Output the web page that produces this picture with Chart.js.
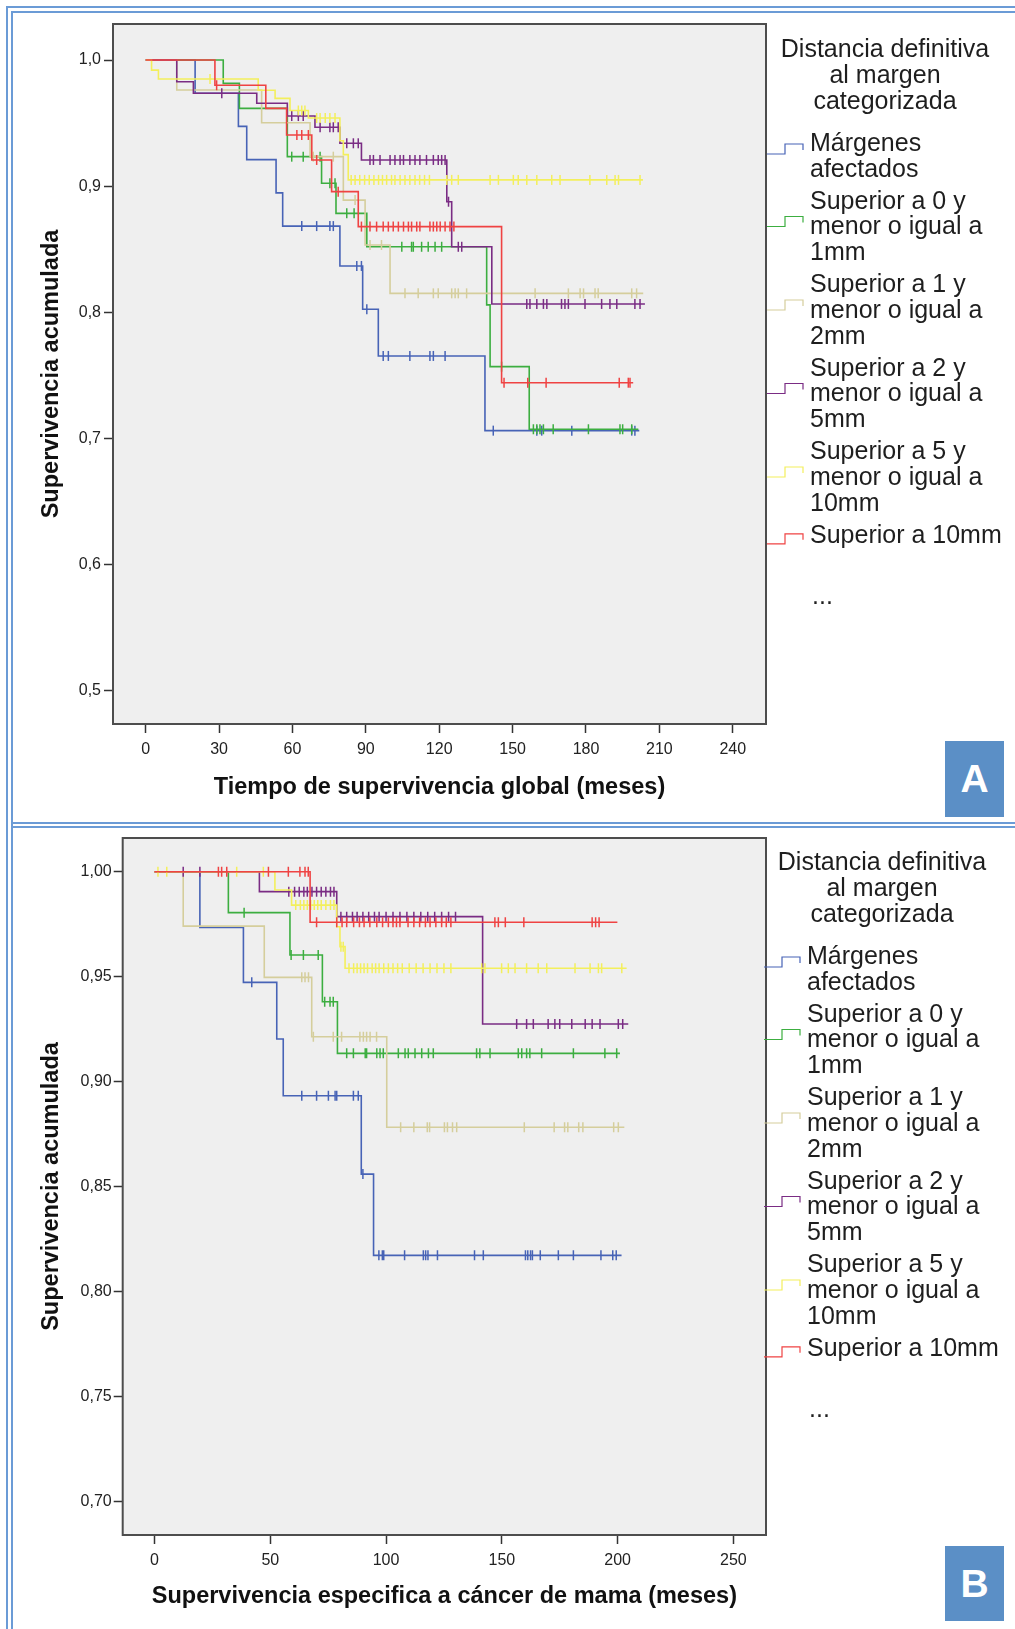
<!DOCTYPE html>
<html lang="es">
<head>
<meta charset="utf-8">
<title>Supervivencia según distancia definitiva al margen</title>
<script src="https://cdn.jsdelivr.net/npm/chart.js@4.4.1/dist/chart.umd.min.js"></script>
<style>
  html, body { margin: 0; padding: 0; background: #fff; }
  body { position: relative; width: 1015px; height: 1629px; overflow: hidden; }
  .rule { position: absolute; background: #6b9bd6; }
  canvas { position: absolute; left: 0; }
  .tag { position: absolute; left: 945px; width: 59px; background: #5b8fc6; color: #fff;
         font: bold 39px "Liberation Sans", Arial, sans-serif; display: flex; align-items: center; justify-content: center; }
</style>
</head>
<body>
<div class="rule" style="left:6px;top:6px;width:1009px;height:2px"></div>
<div class="rule" style="left:11px;top:11px;width:1004px;height:1.5px"></div>
<div class="rule" style="left:6px;top:6px;width:2px;height:1623px"></div>
<div class="rule" style="left:11px;top:11px;width:1.5px;height:1618px"></div>
<div class="rule" style="left:11px;top:822px;width:1004px;height:1.5px"></div>
<div class="rule" style="left:11px;top:826px;width:1004px;height:1.5px"></div>
<canvas id="chartA" width="1015" height="815" style="top:0"></canvas>
<canvas id="chartB" width="1015" height="814" style="top:815px"></canvas>
<div class="tag" style="top:741px;height:76px">A</div>
<div class="tag" style="top:1546px;height:75px">B</div>
<script>
// ---------- Panel A: supervivencia global ----------
const xTicksA = [0, 30, 60, 90, 120, 150, 180, 210, 240];
const yTicksA = [0.5, 0.6, 0.7, 0.8, 0.9, 1.0];
const yTickLabelsA = ['0,5', '0,6', '0,7', '0,8', '0,9', '1,0'];

// step times (months), survival after each step, censored times
const blueA_t = [0, 20.2, 37.9, 41.3, 53.3, 56.0, 79.4, 88.7, 95.1, 138.7, 201.8];
const blueA_s = [1, 0.9737, 0.9474, 0.9211, 0.8947, 0.8684, 0.8368, 0.8025, 0.7655, 0.7063, 0.7063];
const blueA_c = [63.8, 69.9, 75.3, 76.7, 86.3, 88.2, 90.4, 97.1, 99.2, 108.0, 116.2, 117.6, 122.4, 142.1, 159.9, 161.9, 174.2, 198.7, 200.0];

const greenA_t = [0, 31.7, 38.3, 57.9, 71.9, 77.8, 90.4, 139.4, 140.8, 156.8, 201.4];
const greenA_s = [1, 0.9815, 0.9617, 0.9234, 0.9023, 0.8785, 0.852, 0.806, 0.757, 0.7074, 0.7074];
const greenA_c = [59.7, 64.4, 71.3, 75.3, 77.4, 82.2, 85.2, 104.7, 108.7, 109.4, 112.8, 115.5, 118.3, 121.0, 145.5, 158.5, 159.9, 161.2, 162.6, 166.6, 181.0, 193.9, 195.0, 198.7];

const oliveA_t = [0, 12.7, 47.4, 67.2, 80.8, 89.7, 99.9, 203.4];
const oliveA_s = [1, 0.9762, 0.9503, 0.9234, 0.889, 0.8534, 0.8151, 0.8151];
const oliveA_c = [68.5, 76.7, 85.6, 91.7, 96.4, 106.0, 111.4, 117.6, 119.6, 125.1, 126.5, 127.8, 131.2, 159.2, 172.8, 177.6, 179.0, 183.7, 185.0, 198.7, 200.7];

const purpleA_t = [0, 12.7, 19.5, 45.4, 57.9, 69.2, 79.4, 88.2, 123.1, 125.1, 141.5, 204.1];
const purpleA_s = [1, 0.9828, 0.9736, 0.9657, 0.9556, 0.9467, 0.934, 0.9208, 0.8877, 0.852, 0.8067, 0.8067];
const purpleA_c = [31.1, 59.7, 62.4, 64.4, 71.3, 75.3, 76.7, 78.7, 82.2, 84.9, 86.9, 91.7, 93.1, 95.8, 99.9, 101.9, 104.0, 105.4, 108.0, 110.1, 112.1, 114.8, 117.6, 119.6, 121.0, 122.4, 123.8, 127.8, 129.2, 155.8, 157.1, 159.9, 162.6, 164.0, 170.0, 171.4, 172.8, 179.6, 186.4, 189.8, 192.6, 200.0, 202.1];

const yellowA_t = [0, 2.4, 5.2, 46.0, 52.9, 59.0, 66.5, 79.4, 80.8, 82.8, 203.3];
const yellowA_s = [1, 0.992, 0.985, 0.976, 0.9696, 0.960, 0.954, 0.936, 0.925, 0.905, 0.905];
const yellowA_c = [26.3, 62.4, 63.8, 65.1, 69.9, 71.3, 73.4, 75.3, 77.4, 84.0, 85.6, 87.5, 89.5, 91.4, 93.3, 95.2, 96.8, 98.5, 100.5, 101.9, 104.0, 106.0, 108.0, 110.1, 112.0, 114.0, 116.0, 123.1, 125.1, 127.8, 140.8, 144.2, 150.3, 152.3, 155.8, 159.9, 166.0, 169.4, 181.6, 188.5, 191.9, 193.3, 202.1];

const redA_t = [0, 28.3, 49.1, 57.6, 67.9, 76.0, 86.9, 145.5, 199.3];
const redA_s = [1, 0.980, 0.9617, 0.9406, 0.9208, 0.8957, 0.868, 0.7443, 0.7443];
const redA_c = [29.0, 61.8, 63.8, 66.5, 69.9, 78.7, 88.2, 91.7, 94.4, 97.1, 99.2, 101.2, 103.3, 105.4, 107.4, 108.7, 110.8, 112.1, 116.2, 117.6, 119.0, 120.4, 122.4, 124.4, 126.0, 146.5, 156.2, 163.7, 193.6, 197.3, 198.0];

// ---------- Panel B: supervivencia específica a cáncer de mama ----------
const xTicksB = [0, 50, 100, 150, 200, 250];
const yTicksB = [0.70, 0.75, 0.80, 0.85, 0.90, 0.95, 1.00];
const yTickLabelsB = ['0,70', '0,75', '0,80', '0,85', '0,90', '0,95', '1,00'];

const blueB_t = [0, 19.6, 38.4, 52.8, 55.6, 89.3, 94.6, 201.7];
const blueB_s = [1, 0.9735, 0.9473, 0.9203, 0.8933, 0.856, 0.8173, 0.8173];
const blueB_c = [42.0, 63.6, 70.0, 75.1, 78.0, 78.7, 85.9, 88.0, 90.0, 96.9, 98.4, 99.0, 108.0, 116.1, 117.1, 118.1, 122.2, 138.2, 142.0, 160.2, 161.2, 162.4, 163.2, 166.6, 174.4, 180.9, 192.8, 197.9, 199.4];

const greenB_t = [0, 31.9, 58.5, 72.5, 79.0, 201.0];
const greenB_s = [1, 0.9805, 0.9603, 0.9381, 0.9135, 0.9135];
const greenB_c = [38.7, 59.0, 64.3, 70.7, 73.5, 75.8, 77.2, 83.0, 85.9, 91.0, 91.6, 96.0, 97.4, 98.8, 105.3, 108.2, 109.6, 112.5, 115.4, 118.3, 120.4, 139.1, 140.5, 144.9, 157.1, 158.6, 160.7, 162.1, 167.2, 180.9, 194.5, 199.6];

const oliveB_t = [0, 12.4, 47.4, 67.9, 100.3, 202.9];
const oliveB_s = [1, 0.9741, 0.9497, 0.9214, 0.8783, 0.8783];
const oliveB_c = [63.6, 65.0, 66.5, 68.6, 77.2, 80.8, 88.7, 90.2, 91.6, 93.1, 95.9, 106.3, 112.0, 117.8, 118.8, 125.2, 126.5, 128.7, 130.5, 159.7, 172.6, 177.1, 178.5, 183.2, 185.0, 198.3, 200.3];

const purpleB_t = [0, 45.3, 78.7, 141.7, 204.6];
const purpleB_s = [1, 0.9905, 0.9786, 0.9275, 0.9275];
const purpleB_c = [12.4, 19.6, 58.0, 60.5, 62.5, 64.5, 66.0, 68.0, 70.0, 72.0, 74.0, 76.0, 77.5, 80.5, 83.0, 85.5, 87.5, 90.0, 92.5, 95.0, 97.0, 100.0, 103.0, 106.0, 109.0, 112.0, 115.0, 118.0, 121.0, 124.0, 127.0, 130.0, 156.4, 160.7, 163.6, 170.0, 172.9, 175.0, 180.2, 186.0, 189.0, 192.4, 200.3, 202.2];

const yellowB_t = [0, 52.0, 59.2, 78.7, 80.1, 82.3, 203.9];
const yellowB_s = [1, 0.9913, 0.9841, 0.9738, 0.9643, 0.954, 0.954];
const yellowB_c = [1.5, 5.3, 35.5, 47.0, 61.0, 63.0, 64.5, 66.0, 67.5, 69.0, 70.5, 72.0, 74.0, 76.0, 77.5, 80.5, 81.5, 84.0, 86.0, 87.5, 89.0, 90.5, 92.0, 94.0, 95.5, 97.0, 99.0, 101.0, 103.0, 105.0, 107.0, 110.0, 113.0, 116.0, 119.0, 122.0, 125.0, 128.0, 141.3, 142.7, 149.9, 152.8, 155.7, 160.7, 165.7, 169.4, 181.6, 188.1, 191.7, 193.1, 201.8];

const redB_t = [0, 67.2, 199.9];
const redB_s = [1, 0.9759, 0.9759];
const redB_c = [27.6, 29.0, 31.2, 49.2, 57.8, 62.8, 65.0, 66.4, 70.0, 78.7, 81.0, 83.0, 86.0, 88.5, 90.5, 93.0, 96.0, 98.5, 101.0, 103.0, 104.5, 106.0, 109.5, 112.0, 114.5, 117.0, 119.0, 121.5, 124.0, 126.0, 128.0, 147.0, 148.5, 151.5, 159.5, 189.0, 190.5, 192.0];

// ---------- shared legend text and series colours ----------
const legendTitle = ['Distancia definitiva', 'al margen', 'categorizada'];
const legendLabels = [
  ['Márgenes', 'afectados'],
  ['Superior a 0 y', 'menor o igual a', '1mm'],
  ['Superior a 1 y', 'menor o igual a', '2mm'],
  ['Superior a 2 y', 'menor o igual a', '5mm'],
  ['Superior a 5 y', 'menor o igual a', '10mm'],
  ['Superior a 10mm']
];
const seriesColors = ['#4763b6', '#3cae40', '#d5ce9c', '#7a2c84', '#f3ef5c', '#ef4343'];

const FONT = '"Liberation Sans", Arial, Helvetica, sans-serif';

// survival value of a step curve at time x
function survivalAt(times, surv, x) {
  let v = surv[0];
  for (let i = 0; i < times.length; i++) if (times[i] <= x) v = surv[i];
  return v;
}

function drawLegend(ctx, dx, dy) {
  ctx.save();
  ctx.font = '25px ' + FONT;
  ctx.fillStyle = '#1e1e1e';
  ctx.textBaseline = 'middle';
  ctx.textAlign = 'center';
  legendTitle.forEach((line, i) => ctx.fillText(line, 885 + dx, 50 + i * 26 + dy));
  ctx.textAlign = 'left';
  let y = 144;
  legendLabels.forEach((lines, k) => {
    lines.forEach((line, i) => ctx.fillText(line, 810 + dx, y + i * 25.7 + dy));
    const n = lines.length;
    const sy = (n === 1 ? y + 3 : n === 2 ? y + 5 : y + 25.7 - 6) + dy;
    const x0 = 767 + dx;
    ctx.strokeStyle = seriesColors[k];
    ctx.lineWidth = 1.2;
    ctx.beginPath();
    ctx.moveTo(x0, sy + 5);
    ctx.lineTo(x0 + 18, sy + 5);
    ctx.lineTo(x0 + 18, sy - 5);
    ctx.lineTo(x0 + 36, sy - 5);
    ctx.lineTo(x0 + 36, sy + 1);
    ctx.stroke();
    y += n * 25.7 + 6.4;
  });
  ctx.fillText('...', 812 + dx, 597 + dy);
  ctx.restore();
}

const panelDecor = {
  id: 'panelDecor',
  beforeDraw(chart) {
    const { ctx, chartArea: a } = chart;
    ctx.save();
    ctx.fillStyle = '#efefef';
    ctx.fillRect(a.left, a.top, a.right - a.left, a.bottom - a.top);
    ctx.restore();
  },
  afterDraw(chart, args, opts) {
    const { ctx, chartArea: a } = chart;
    ctx.save();
    ctx.strokeStyle = '#4d4d4d';
    ctx.lineWidth = 2;
    ctx.strokeRect(a.left, a.top, a.right - a.left, a.bottom - a.top);
    ctx.restore();
    drawLegend(ctx, opts.dx, opts.dy);
  }
};

function buildChart(canvasId, p) {
  const datasets = [];
  p.series.forEach((ser, k) => {
    const color = seriesColors[k];
    const order = p.series.length - k;
    datasets.push({
      label: legendLabels[k].join(' '),
      data: ser.t.map((t, i) => ({ x: t, y: ser.s[i] })),
      stepped: true, borderColor: color, borderWidth: 1.6, pointRadius: 0, fill: false, order
    });
    datasets.push({
      label: legendLabels[k].join(' ') + ' (censurado)',
      data: ser.c.map(t => ({ x: t, y: survivalAt(ser.t, ser.s, t) })),
      showLine: false, pointStyle: 'line', rotation: 90, pointRadius: 5, pointHoverRadius: 5,
      pointBorderColor: color, pointBackgroundColor: color, pointBorderWidth: 1.5, order
    });
  });

  return new Chart(document.getElementById(canvasId), {
    type: 'line',
    data: { datasets },
    plugins: [panelDecor],
    options: {
      responsive: false, animation: false, devicePixelRatio: 1, events: [],
      layout: { padding: { left: 25, top: p.top, right: p.right, bottom: p.bottom } },
      plugins: { legend: { display: false }, tooltip: { enabled: false }, panelDecor: { dx: p.legendDx, dy: p.legendDy } },
      scales: {
        x: {
          type: 'linear', min: p.xMin, max: p.xMax,
          afterBuildTicks: s => { s.ticks = p.xTicks.map(v => ({ value: v })); },
          afterFit: s => { s.height = 82; },
          ticks: { autoSkip: false, maxRotation: 0, padding: p.xTickPad, color: '#222', font: { family: FONT, size: 16 }, callback: v => String(v) },
          grid: { drawOnChartArea: false, drawTicks: true, tickLength: 9, tickWidth: 1.5, tickColor: '#333' },
          border: { display: false },
          title: { display: true, text: p.xTitle, color: '#111', font: { family: FONT, size: 23.5, weight: 'bold' }, padding: { top: 0, bottom: p.xTitlePad } }
        },
        y: {
          type: 'linear', min: p.yMin, max: p.yMax,
          afterBuildTicks: s => { s.ticks = p.yTicks.map(v => ({ value: v })); },
          afterFit: s => { s.width = p.yWidth; },
          ticks: { autoSkip: false, padding: p.yTickPad, color: '#222', font: { family: FONT, size: 16 }, callback: (v, i) => p.yTickLabels[i] },
          grid: { drawOnChartArea: false, drawTicks: true, tickLength: 9, tickWidth: 1.5, tickColor: '#333' },
          border: { display: false },
          title: { display: true, text: 'Supervivencia acumulada', color: '#111', font: { family: FONT, size: 23.5, weight: 'bold' }, padding: { top: 12.9, bottom: 0 } }
        }
      }
    }
  });
}

buildChart('chartA', {
  series: [
    { t: blueA_t, s: blueA_s, c: blueA_c },
    { t: greenA_t, s: greenA_s, c: greenA_c },
    { t: oliveA_t, s: oliveA_s, c: oliveA_c },
    { t: purpleA_t, s: purpleA_s, c: purpleA_c },
    { t: yellowA_t, s: yellowA_s, c: yellowA_c },
    { t: redA_t, s: redA_s, c: redA_c }
  ],
  xTicks: xTicksA, yTicks: yTicksA, yTickLabels: yTickLabelsA,
  xMin: -13.37, xMax: 253.6, yMin: 0.47385, yMax: 1.02853,
  top: 24, right: 249, bottom: 9, yWidth: 88,
  xTickPad: 7, yTickPad: 3, xTitlePad: 3.9,
  xTitle: 'Tiempo de supervivencia global (meses)',
  legendDx: 0, legendDy: 0
});

buildChart('chartB', {
  series: [
    { t: blueB_t, s: blueB_s, c: blueB_c },
    { t: greenB_t, s: greenB_s, c: greenB_c },
    { t: oliveB_t, s: oliveB_s, c: oliveB_c },
    { t: purpleB_t, s: purpleB_s, c: purpleB_c },
    { t: yellowB_t, s: yellowB_s, c: yellowB_c },
    { t: redB_t, s: redB_s, c: redB_c }
  ],
  xTicks: xTicksB, yTicks: yTicksB, yTickLabels: yTickLabelsB,
  xMin: -13.73, xMax: 264.08, yMin: 0.68414, yMax: 1.01605,
  top: 23, right: 249, bottom: 12, yWidth: 97.7,
  xTickPad: 7.4, yTickPad: 2, xTitlePad: 5.9,
  xTitle: 'Supervivencia especifica a cáncer de mama (meses)',
  legendDx: -3, legendDy: -2
});
</script>
</body>
</html>
